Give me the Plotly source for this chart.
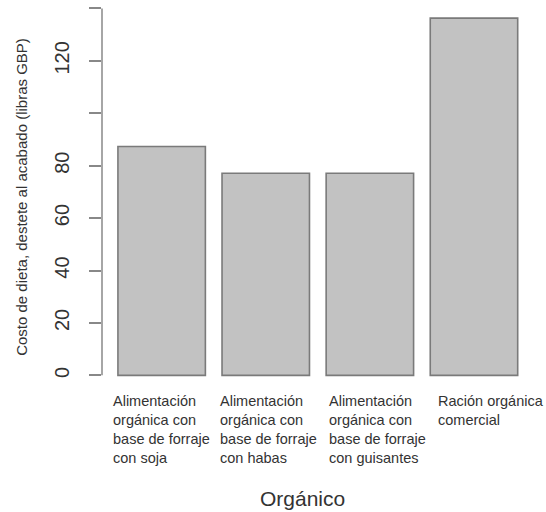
import plotly.graph_objects as go

categories = [
    "Alimentación<br>orgánica con<br>base de forraje<br>con soja",
    "Alimentación<br>orgánica con<br>base de forraje<br>con habas",
    "Alimentación<br>orgánica con<br>base de forraje<br>con guisantes",
    "Ración orgánica<br>comercial",
]
values = [87.3, 77.1, 77.1, 136.3]
y_tick_vals = [0, 20, 40, 60, 80, 100, 120, 140]
y_tick_text = ["0", "20", "40", "60", "80", "", "120", ""]
label_shifts = [-51, -48, -43, -38]

x_idx = list(range(len(categories)))

fig = go.Figure()
fig.add_trace(go.Bar(
    x=x_idx, y=values,
    marker=dict(color="#c2c2c2", line=dict(color="#7a7a7a", width=1.6)),
    width=0.84,
    hoverinfo="skip",
))

for i, (lab, sh) in enumerate(zip(categories, label_shifts)):
    fig.add_annotation(
        x=i, xref="x", y=0, yref="paper", yanchor="top", xanchor="left",
        xshift=sh, yshift=-1, text=lab, align="left", showarrow=False,
        font=dict(family="Liberation Sans, Arial", size=14.5, color="#333333"),
    )

fig.add_annotation(
    x=0.5, xref="paper", y=0, yref="paper", yanchor="top", xanchor="center",
    xshift=-15, yshift=-95, text="Orgánico", showarrow=False,
    font=dict(family="Liberation Sans, Arial", size=21, color="#333333"),
)

fig.add_shape(type="line", xref="paper", yref="y", x0=0, x1=0,
              y0=y_tick_vals[0], y1=y_tick_vals[-1],
              line=dict(color="#888888", width=1.5))

fig.update_layout(
    width=546, height=512,
    margin=dict(l=102, r=13, t=4, b=122, autoexpand=False),
    paper_bgcolor="white", plot_bgcolor="white",
    showlegend=False,
    xaxis=dict(range=[-0.573, 3.567], showticklabels=False, ticks="",
               showgrid=False, zeroline=False, showline=False, automargin=False),
    yaxis=dict(range=[-5.6, 141.7], tickvals=y_tick_vals, ticktext=y_tick_text,
               ticks="outside", ticklen=12, tickwidth=1.5, tickcolor="#888888",
               tickangle=-90, showgrid=False, zeroline=False, showline=False,
               automargin=False, ticklabelstandoff=12,
               tickfont=dict(family="Liberation Sans, Arial", size=20, color="#333333"),
               title=dict(text="Costo de dieta, destete al acabado (libras GBP)",
                          font=dict(family="Liberation Sans, Arial", size=15, color="#333333"),
                          standoff=19)),
)

fig.write_html("out.html", config={"displayModeBar": False},
               post_script="document.body.style.margin='0px';")
